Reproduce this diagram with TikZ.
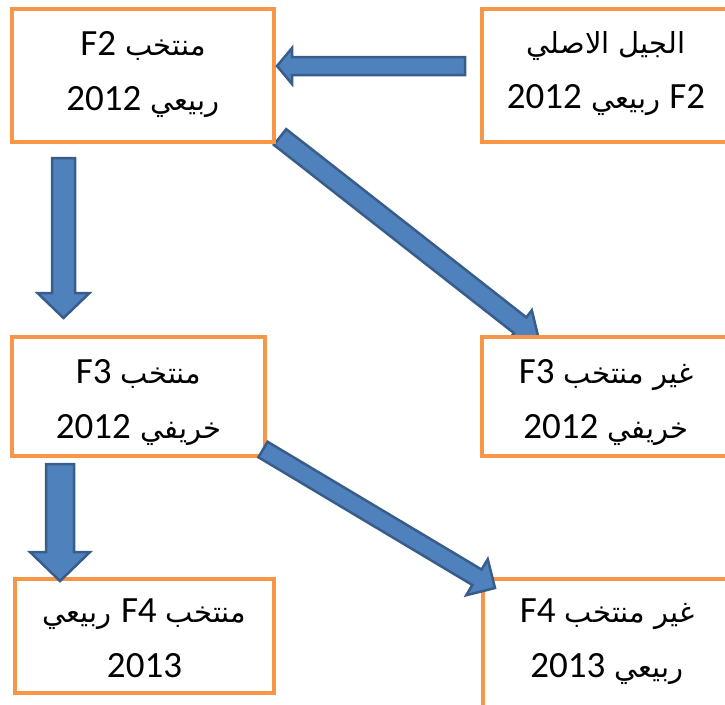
\documentclass[tikz,border=0pt]{standalone}
\usepackage{fontspec}
\TeXXeTstate=1
\newfontfamily\arabicfont[Script=Arabic]{DejaVu Sans}
\newfontfamily\latfont{Carlito}
\usetikzlibrary{calc,positioning,backgrounds}
\definecolor{boxorange}{HTML}{F79646}
\definecolor{arrfill}{HTML}{4F81BD}
\definecolor{arrline}{HTML}{385D8A}
\newcommand{\lat}[1]{\beginL{\latfont\fontsize{37}{55}\selectfont #1}\endL{}}
% block arrow: start, tip, shaft half width, head half width, head length
\newcommand{\blockarrow}[5]{%
  \coordinate (ba-base) at ($(#2)!#5!(#1)$);
  \draw[blockarr] ($(#1)!#3!90:(#2)$) -- ($(ba-base)!#3!-90:(#1)$)
    -- ($(ba-base)!#4!-90:(#1)$) -- (#2)
    -- ($(ba-base)!#4!90:(#1)$) -- ($(ba-base)!#3!90:(#1)$)
    -- ($(#1)!#3!-90:(#2)$) -- cycle;
}
\begin{document}
\begin{tikzpicture}[x=1pt,y=-1pt,
  box/.style={draw=boxorange,line width=4.5pt,fill=white,inner sep=0pt,outer sep=0pt},
  txt/.style={font=\arabicfont\fontsize{29}{55}\selectfont,align=center,inner sep=0pt},
  blockarr/.style={draw=arrline,fill=arrfill,line width=2.5pt,line join=miter}]

\useasboundingbox (0,0) rectangle (725,704);
\clip (0,0) rectangle (725,704);

\node(selF2) at (143,75.5) [box,minimum width=262pt,minimum height=133pt] {};
\node(origF2) at (606,75.5) [box,minimum width=248pt,minimum height=133pt] {};
\node(selF3) at (138.5,396.5) [box,minimum width=253pt,minimum height=119pt] {};
\node(unselF3) at (606,396.5) [box,minimum width=248pt,minimum height=119pt] {};
\node(selF4) at (144.5,636) [box,minimum width=259pt,minimum height=114pt] {};
\node(unselF4) at (607,644.5) [box,minimum width=248pt,minimum height=131pt] {};

\node(selF2txt) [txt,below=14pt of selF2.north] {\rule{0pt}{32pt}\beginR منتخب \lat{F2}\endR\\ \beginR ربيعي \lat{2012}\endR};
\node(origF2txt) [txt,below=12pt of origF2.north] {\rule{0pt}{32pt}\beginR الجيل الاصلي\endR\\ \beginR\lat{F2} ربيعي \lat{2012}\endR};
\node(selF3txt) [txt,below=14pt of selF3.north] {\rule{0pt}{32pt}\beginR منتخب \lat{F3}\endR\\ \beginR خريفي \lat{2012}\endR};
\node(unselF3txt) [txt,below=14pt of unselF3.north] {\rule{0pt}{32pt}\beginR غير منتخب \lat{F3}\endR\\ \beginR خريفي \lat{2012}\endR};
\node(selF4txt) [txt,below=11pt of selF4.north] {\rule{0pt}{32pt}\beginR منتخب \lat{F4} ربيعي\endR\\ \lat{2013}};
\node(unselF4txt) [txt,below=11pt of unselF4.north] {\rule{0pt}{32pt}\beginR غير منتخب \lat{F4}\endR\\ \beginR ربيعي \lat{2013}\endR};

\coordinate (a1s) at ($(origF2.west)+(-17,-9.5)$);
\coordinate (a1e) at ($(selF2.east)+(3,-9.5)$);
\blockarrow{a1s}{a1e}{9pt}{18pt}{15pt}

\coordinate (a2s) at ($(selF2.south west)+(51.5,16)$);
\coordinate (a2e) at ($(selF3.north west)+(51.5,-19)$);
\blockarrow{a2s}{a2e}{11.5pt}{26pt}{25pt}

\begin{scope}[on background layer]
\coordinate (a3s) at ($(selF2.south east)+(6,-5)$);
\coordinate (a3e) at ($(unselF3.north west)+(57,3)$);
\blockarrow{a3s}{a3e}{10pt}{19pt}{24pt}
\end{scope}

\coordinate (a4s) at ($(selF3.south west)+(48,8)$);
\coordinate (a4e) at ($(selF4.north west)+(45,2)$);
\blockarrow{a4s}{a4e}{14pt}{30pt}{29pt}

\coordinate (a5s) at ($(selF3.south east)+(-2,-6.5)$);
\coordinate (a5e) at ($(unselF4.north west)+(12,9)$);
\blockarrow{a5s}{a5e}{9pt}{21pt}{21pt}

\end{tikzpicture}
\end{document}
